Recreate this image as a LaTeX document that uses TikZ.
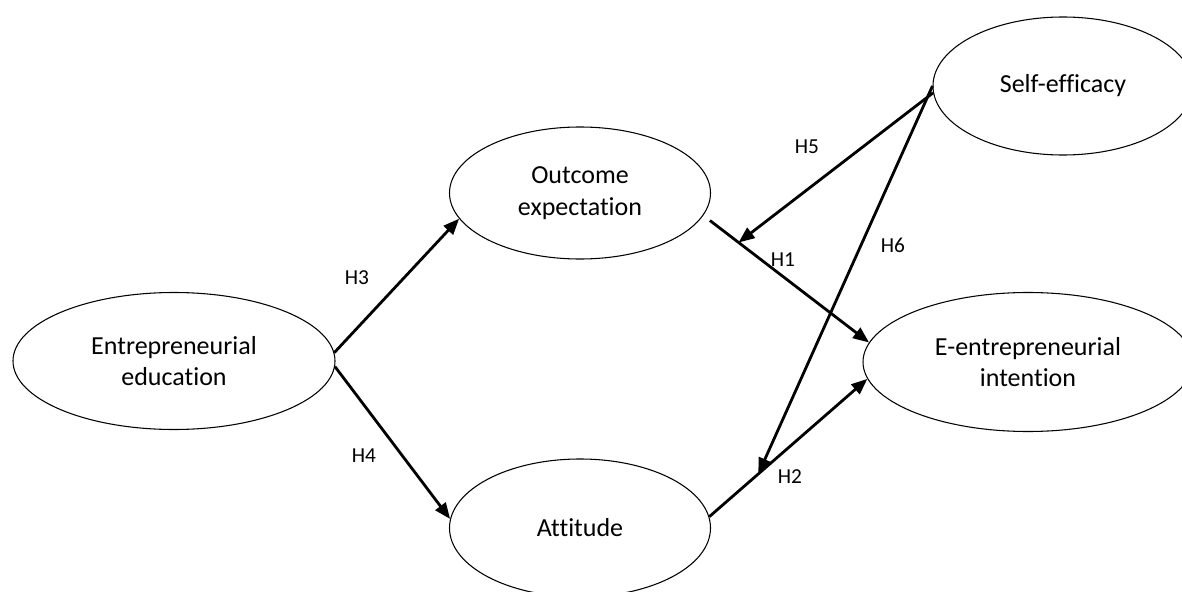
\documentclass[tikz,border=0pt]{standalone}
\usepackage{fontspec}
\setmainfont{Carlito}[Ligatures=NoCommon]
\usetikzlibrary{shapes.geometric,arrows.meta,calc}
\begin{document}
\begin{tikzpicture}[x=0.75pt,y=-0.75pt,
  construct/.style={draw,ellipse,line width=0.8pt,inner sep=0pt,align=center,
    font=\fontsize{19.5}{23.5}\selectfont},
  path/.style={line width=2.1pt,-{Triangle[length=12pt,width=9.5pt]}},
  hlabel/.style={font=\fontsize{16}{18}\selectfont,inner sep=0pt}]
\useasboundingbox (0,0) rectangle (1182,592);
\node[construct,minimum width=241.5pt,minimum height=102.75pt] (ee) at (174,361) {Entrepreneurial\\education};
\node[construct,minimum width=195.75pt,minimum height=99pt] (oe) at (580,193) {Outcome\\expectation};
\node[construct,minimum width=195.75pt,minimum height=103.5pt] (at) at (580,528) {Attitude};
\node[construct,minimum width=247.5pt,minimum height=104.25pt] (ei) at (1028,362) {E-entrepreneurial\\intention};
\node[construct,minimum width=195pt,minimum height=103.5pt] (se) at (1063,86) {Self-efficacy};
\draw[path] (ee.3) -- (oe.192);
\draw[path] (ee.-2) -- (at.176);
\draw[path] ([xshift=8pt]oe.-13) -- (ei.173) coordinate[pos=0.18] (h5end);
\draw[path] (at.5) -- (ei.186) coordinate[pos=0.31] (h6end);
\draw[path] (se.183) -- (h5end);
\draw[path] (se.180) -- (h6end);
\node[hlabel] (l3) at (357,278) {H3};
\node[hlabel] (l4) at (364,456) {H4};
\node[hlabel] (l1) at (783,260) {H1};
\node[hlabel] (l2) at (790,477) {H2};
\node[hlabel] (l5) at (807,147) {H5};
\node[hlabel] (l6) at (893,245) {H6};
\end{tikzpicture}
\end{document}
